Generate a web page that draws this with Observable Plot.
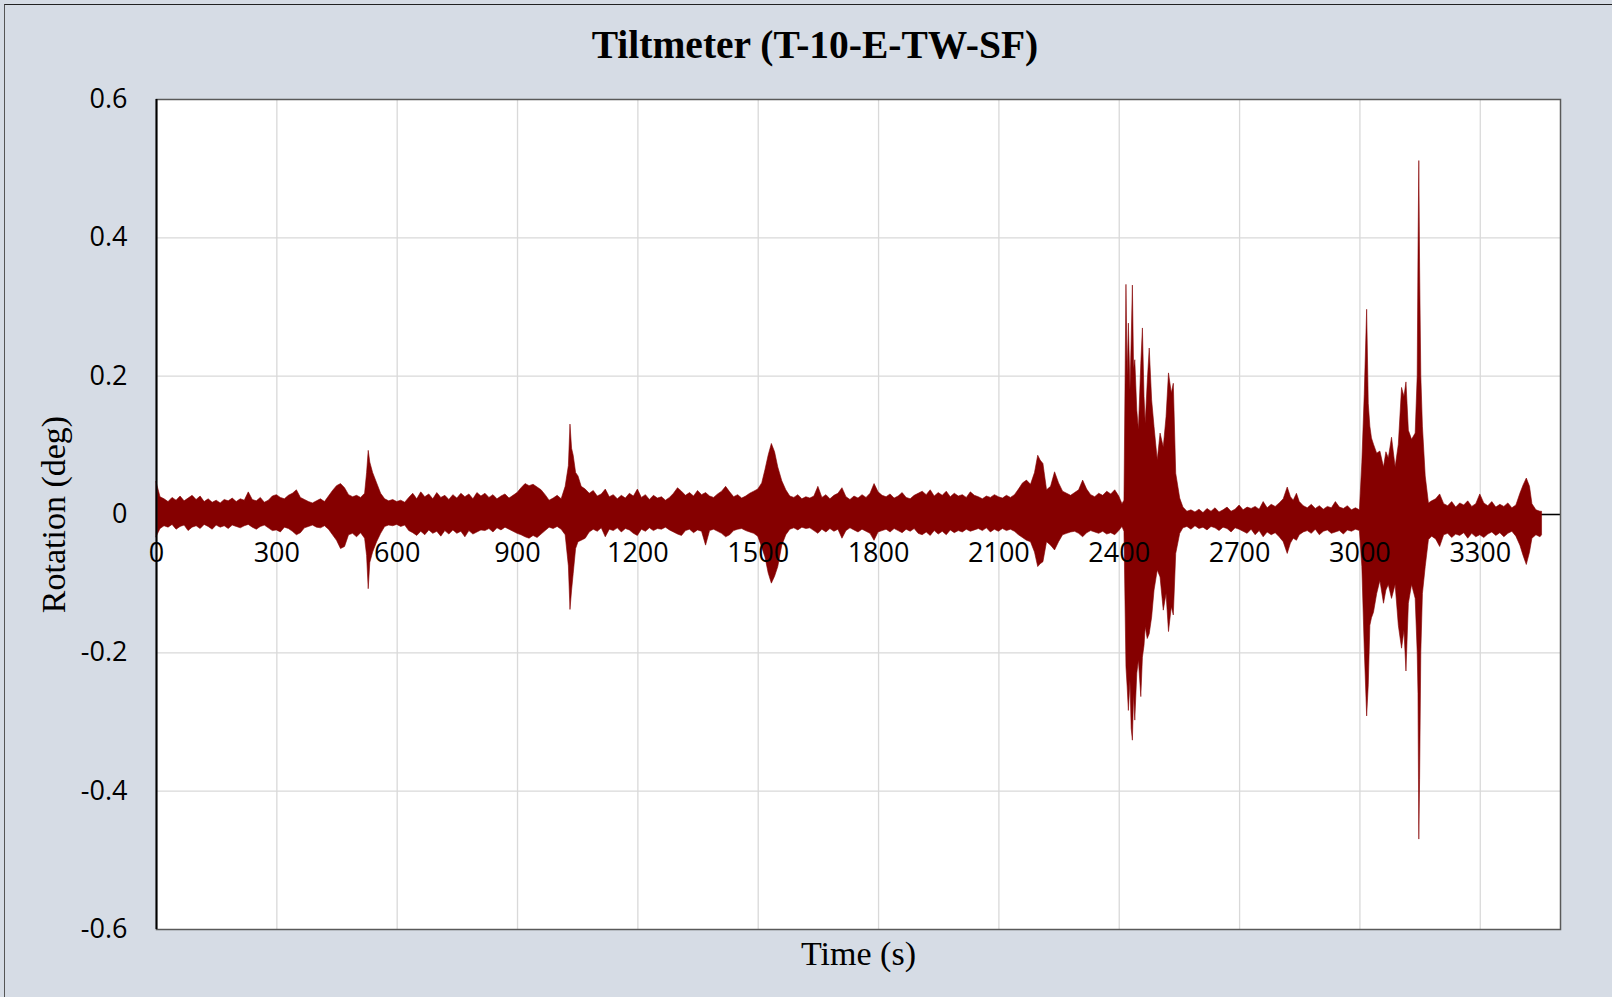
<!DOCTYPE html>
<html>
<head>
<meta charset="utf-8">
<script src="https://cdn.jsdelivr.net/npm/d3@7"></script>
<script src="https://cdn.jsdelivr.net/npm/@observablehq/plot@0.6"></script>
<style>
html, body { margin: 0; padding: 0; background: #d6dce5; }
#wrap { position: relative; width: 1612px; height: 997px; background: #d6dce5; overflow: hidden; }
#border { position: absolute; left: 4px; top: 4px; width: 1700px; height: 1100px; border-top: 1.5px solid #222; border-left: 1.5px solid #555; }
#title { position: absolute; left: 9px; top: 0; width: 1612px; height: 90px; display: flex; align-items: center; justify-content: center;
  font-family: "Liberation Serif", serif; font-weight: bold; font-size: 39.5px; color: #000; }
#chart { position: absolute; left: 0; top: 90px; }
</style>
</head>
<body>
<div id="wrap">
  <div id="border"></div>
  <div id="title">Tiltmeter (T-10-E-TW-SF)</div>
  <div id="chart"></div>
</div>
<script>
const xTicks = [0, 300, 600, 900, 1200, 1500, 1800, 2100, 2400, 2700, 3000, 3300];
const yTicks = [-0.6, -0.4, -0.2, 0, 0.2, 0.4, 0.6];

// Envelope of the rotation record (deg): time (s), upper and lower envelope
const time = [
  0,10,20,30,40,50,60,70,80,90,100,110,120,130,140,150,160,170,180,190,200,210,220,230,240,250,260,270,280,290,300,310,320,330,340,350,360,370,380,390,400,
  410,420,430,440,450,460,470,480,490,500,510,520,
  525,529,533,
  540,550,560,570,580,590,600,610,620,630,640,650,660,670,680,690,700,710,720,730,740,750,760,770,780,790,800,810,820,830,840,850,860,870,880,890,900,910,920,930,940,950,960,970,980,990,1000,1010,1020,
  1028,1032,1036,1040,1046,1052,
  1060,1070,1080,1090,1100,1110,1120,1130,1140,1150,1160,1170,1180,1190,1200,1210,1220,1230,1240,1250,1260,1270,1280,1290,1300,1310,1320,1330,1340,1350,1360,1370,1380,1390,1400,1410,1420,1430,1440,1450,1460,1470,1480,1490,1500,
  1510,1518,1526,1534,1542,1550,
  1560,1570,1580,1590,1600,1610,1620,1630,1640,1650,1660,1670,1680,1690,1700,1710,1720,1730,1740,1750,1760,1770,1780,1790,1800,1810,1820,1830,1840,1850,1860,1870,1880,1890,1900,1910,1920,1930,1940,1950,1960,1970,1980,1990,2000,2010,2020,2030,2040,2050,2060,2070,2080,2090,2100,2110,2120,2130,2140,2150,2160,2170,2180,2190,
  2198,2204,2211,
  2220,2230,2240,2250,2260,2270,2280,2290,2300,2310,2320,2330,2340,2350,2360,2370,2380,2390,2400,
  2408,2413,2418,2421,2424,2428,2431,2434,2437,2440,2445,2449,2455,2459,2463,2466,2471,2476,2482,2488,2496,2503,2511,2518,2524,2531,2536,2542,2552,
  2560,2570,2580,2590,2600,2610,2620,2630,2640,2650,2660,2670,2680,2690,2700,2710,2720,2730,2740,2750,2760,2770,2780,2790,2800,2810,
  2820,2828,2835,2843,2850,
  2860,2870,2880,2890,2900,2910,2920,2930,2940,2950,2960,2970,2980,2990,3000,
  3006,3012,3018,3022,3026,3030,3035,3043,3051,3060,3066,3072,3080,3089,3097,3105,3111,3116,3122,3130,3139,3144,3146,3148,3150,3153,3157,3164,3172,
  3180,3190,3200,3210,3220,3230,3240,3250,3260,3270,3280,3290,3300,3310,3320,3330,3340,3350,3360,3370,3380,3390,
  3400,3408,3416,3424,3430,3440,3450,3454
];
const upper = [
  0.047,0.025,0.022,0.018,0.024,0.020,0.026,0.019,0.023,0.027,0.021,0.026,0.018,0.022,0.017,0.020,0.016,0.021,0.019,0.023,0.018,0.022,0.020,0.032,0.021,0.019,0.024,0.017,0.020,0.026,0.028,0.024,0.022,0.027,0.030,0.035,0.024,0.021,0.018,0.016,0.019,
  0.022,0.018,0.026,0.034,0.041,0.044,0.038,0.028,0.025,0.027,0.024,0.030,
  0.060,0.092,0.075,
  0.060,0.045,0.030,0.022,0.019,0.021,0.018,0.020,0.017,0.024,0.030,0.022,0.032,0.025,0.029,0.022,0.031,0.024,0.027,0.021,0.028,0.023,0.030,0.025,0.029,0.022,0.031,0.026,0.030,0.024,0.028,0.022,0.026,0.029,0.023,0.027,0.031,0.038,0.044,0.041,0.043,0.039,0.035,0.028,0.020,0.023,0.027,0.022,0.040,
  0.070,0.130,0.095,0.085,0.060,0.055,
  0.040,0.036,0.030,0.034,0.026,0.029,0.036,0.025,0.028,0.022,0.027,0.023,0.030,0.026,0.036,0.024,0.028,0.021,0.027,0.023,0.025,0.020,0.024,0.030,0.038,0.033,0.027,0.031,0.026,0.034,0.028,0.031,0.026,0.024,0.029,0.033,0.040,0.032,0.025,0.028,0.023,0.026,0.030,0.033,0.036,
  0.045,0.064,0.085,0.102,0.090,0.068,
  0.048,0.035,0.026,0.024,0.028,0.022,0.025,0.023,0.026,0.040,0.024,0.028,0.022,0.027,0.030,0.038,0.025,0.021,0.026,0.023,0.028,0.024,0.030,0.044,0.032,0.027,0.025,0.029,0.023,0.026,0.031,0.024,0.022,0.027,0.030,0.033,0.028,0.035,0.026,0.031,0.027,0.033,0.025,0.030,0.026,0.028,0.024,0.032,0.027,0.025,0.022,0.026,0.024,0.028,0.025,0.023,0.027,0.024,0.028,0.036,0.045,0.049,0.043,0.060,
  0.085,0.078,0.073,
  0.035,0.040,0.061,0.045,0.033,0.030,0.027,0.031,0.035,0.049,0.036,0.028,0.025,0.030,0.027,0.033,0.029,0.035,0.026,
  0.015,0.020,0.332,0.200,0.276,0.180,0.250,0.331,0.210,0.223,0.150,0.122,0.218,0.269,0.170,0.131,0.190,0.240,0.165,0.126,0.078,0.117,0.097,0.141,0.204,0.175,0.189,0.059,0.023,
  0.010,0.004,0.006,0.003,0.007,0.002,0.008,0.004,0.009,0.003,0.006,0.010,0.004,0.007,0.013,0.006,0.010,0.008,0.011,0.007,0.018,0.009,0.014,0.011,0.016,0.022,
  0.039,0.025,0.020,0.030,0.018,
  0.012,0.009,0.014,0.008,0.012,0.007,0.011,0.009,0.018,0.010,0.008,0.012,0.006,0.009,0.006,
  0.075,0.173,0.296,0.160,0.127,0.110,0.101,0.088,0.091,0.068,0.090,0.081,0.111,0.068,0.101,0.183,0.170,0.191,0.121,0.108,0.117,0.200,0.376,0.511,0.357,0.200,0.127,0.055,0.016,
  0.019,0.022,0.029,0.015,0.012,0.018,0.010,0.016,0.013,0.019,0.011,0.015,0.029,0.016,0.012,0.018,0.010,0.014,0.011,0.016,0.009,0.013,
  0.030,0.042,0.052,0.040,0.015,0.006,0.004,0.004
];
const lower = [
  -0.033,-0.021,-0.017,-0.019,-0.015,-0.022,-0.018,-0.016,-0.024,-0.019,-0.017,-0.021,-0.015,-0.018,-0.022,-0.016,-0.019,-0.017,-0.021,-0.016,-0.018,-0.020,-0.017,-0.015,-0.019,-0.022,-0.018,-0.016,-0.020,-0.024,-0.023,-0.026,-0.019,-0.021,-0.025,-0.030,-0.027,-0.020,-0.018,-0.016,-0.019,
  -0.020,-0.017,-0.022,-0.030,-0.038,-0.050,-0.047,-0.030,-0.028,-0.033,-0.027,-0.035,
  -0.060,-0.108,-0.070,
  -0.055,-0.040,-0.028,-0.018,-0.016,-0.017,-0.015,-0.018,-0.016,-0.024,-0.027,-0.031,-0.025,-0.030,-0.023,-0.028,-0.025,-0.032,-0.024,-0.029,-0.023,-0.028,-0.025,-0.033,-0.024,-0.029,-0.026,-0.023,-0.024,-0.021,-0.026,-0.020,-0.023,-0.019,-0.022,-0.025,-0.028,-0.030,-0.033,-0.035,-0.031,-0.034,-0.029,-0.024,-0.019,-0.021,-0.018,-0.022,-0.030,
  -0.075,-0.138,-0.110,-0.086,-0.050,-0.040,
  -0.038,-0.035,-0.026,-0.022,-0.025,-0.020,-0.033,-0.022,-0.024,-0.020,-0.026,-0.021,-0.023,-0.028,-0.031,-0.022,-0.025,-0.020,-0.024,-0.021,-0.022,-0.019,-0.023,-0.026,-0.029,-0.031,-0.024,-0.022,-0.027,-0.023,-0.025,-0.045,-0.024,-0.022,-0.025,-0.028,-0.033,-0.030,-0.024,-0.022,-0.021,-0.024,-0.026,-0.028,-0.032,
  -0.048,-0.062,-0.085,-0.100,-0.090,-0.076,
  -0.045,-0.030,-0.022,-0.020,-0.023,-0.019,-0.021,-0.020,-0.024,-0.028,-0.022,-0.026,-0.021,-0.025,-0.022,-0.035,-0.024,-0.020,-0.023,-0.026,-0.022,-0.025,-0.028,-0.038,-0.026,-0.024,-0.022,-0.026,-0.021,-0.024,-0.027,-0.022,-0.025,-0.021,-0.028,-0.030,-0.026,-0.031,-0.024,-0.029,-0.025,-0.030,-0.023,-0.027,-0.024,-0.026,-0.022,-0.025,-0.023,-0.021,-0.024,-0.020,-0.026,-0.022,-0.025,-0.021,-0.024,-0.022,-0.025,-0.030,-0.034,-0.038,-0.040,-0.055,
  -0.076,-0.072,-0.069,
  -0.040,-0.045,-0.052,-0.040,-0.030,-0.028,-0.026,-0.025,-0.028,-0.033,-0.027,-0.024,-0.026,-0.028,-0.025,-0.029,-0.027,-0.030,-0.024,
  -0.018,-0.025,-0.221,-0.250,-0.284,-0.240,-0.310,-0.327,-0.260,-0.298,-0.230,-0.211,-0.264,-0.207,-0.190,-0.163,-0.180,-0.173,-0.149,-0.110,-0.081,-0.091,-0.139,-0.115,-0.170,-0.134,-0.146,-0.057,-0.028,
  -0.020,-0.018,-0.022,-0.017,-0.021,-0.019,-0.023,-0.018,-0.020,-0.024,-0.019,-0.021,-0.026,-0.020,-0.022,-0.025,-0.028,-0.022,-0.030,-0.024,-0.033,-0.026,-0.030,-0.027,-0.033,-0.040,
  -0.057,-0.042,-0.035,-0.038,-0.030,
  -0.026,-0.024,-0.028,-0.022,-0.030,-0.025,-0.023,-0.028,-0.026,-0.024,-0.029,-0.023,-0.025,-0.022,-0.024,
  -0.076,-0.194,-0.292,-0.247,-0.161,-0.150,-0.142,-0.115,-0.096,-0.129,-0.110,-0.102,-0.122,-0.102,-0.161,-0.194,-0.168,-0.227,-0.129,-0.102,-0.122,-0.200,-0.260,-0.470,-0.384,-0.200,-0.115,-0.076,-0.037,
  -0.032,-0.036,-0.047,-0.030,-0.028,-0.034,-0.029,-0.031,-0.027,-0.035,-0.028,-0.033,-0.030,-0.034,-0.029,-0.026,-0.031,-0.027,-0.033,-0.028,-0.025,-0.032,
  -0.045,-0.060,-0.073,-0.055,-0.035,-0.030,-0.033,-0.030
];

const n = Math.min(time.length, upper.length, lower.length);
if (time.length !== upper.length || time.length !== lower.length) {
  console.error("length mismatch", time.length, upper.length, lower.length);
}
const data = [];
for (let i = 0; i < n; i++) data.push({t: time[i], hi: upper[i], lo: lower[i]});

const fmt = d => d === 0 ? "0" : d.toFixed(1);
const serif = "Liberation Serif, serif";
const sig = "#850000";

const chart = Plot.plot({
  width: 1612,
  height: 907,
  marginTop: 9,
  marginBottom: 68,
  marginLeft: 156,
  marginRight: 52,
  style: {background: "transparent", color: "#000", fontFamily: "'Open Sans', sans-serif", fontSize: "27px", overflow: "visible"},
  x: {domain: [0, 3500], axis: null},
  y: {domain: [-0.6, 0.6], axis: null},
  marks: [
    Plot.frame({fill: "#ffffff"}),
    Plot.gridX(xTicks.filter(d => d > 0), {stroke: "#d9d9d9", strokeOpacity: 1, strokeWidth: 1.3}),
    Plot.gridY(yTicks.filter(d => Math.abs(d) < 0.59), {stroke: "#d9d9d9", strokeOpacity: 1, strokeWidth: 1.3}),
    Plot.ruleY([0], {stroke: "#000", strokeWidth: 1.5}),
    Plot.areaY(data, {x: "t", y1: "lo", y2: "hi", fill: sig, stroke: sig, strokeWidth: 0.6}),
    Plot.frame({stroke: "#595959", strokeWidth: 1.5}),
    Plot.ruleX([0], {stroke: "#000", strokeWidth: 2}),
    Plot.text(yTicks, {x: 0, y: d => d, dx: -29, text: fmt, fontSize: 27, textAnchor: "end", lineAnchor: "middle"}),
    Plot.text(xTicks, {x: d => d, y: 0, dy: 39, text: d => String(d), fontSize: 27, lineAnchor: "middle", textAnchor: "middle"}),
    Plot.text(["Time (s)"], {frameAnchor: "bottom", dy: 25, text: d => d, fontFamily: serif, fontSize: 34, lineAnchor: "middle", textAnchor: "middle"}),
    Plot.text(["Rotation (deg)"], {frameAnchor: "left", dx: -102, rotate: -90, text: d => d, fontFamily: serif, fontSize: 34, lineAnchor: "middle", textAnchor: "middle"})
  ]
});
document.getElementById("chart").appendChild(chart);
</script>
</body>
</html>
